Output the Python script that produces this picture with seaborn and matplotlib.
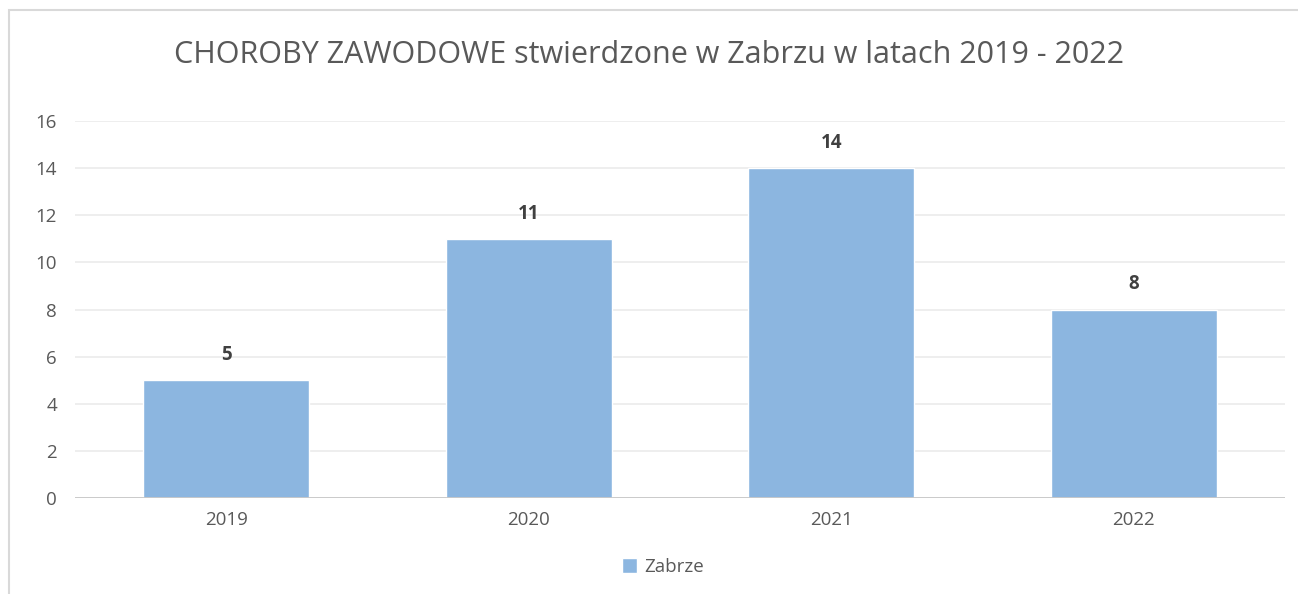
import matplotlib
matplotlib.use("Agg")
import matplotlib.pyplot as plt
import seaborn as sb
import pandas as pd
from matplotlib.patches import Rectangle, Patch

years = ["2019", "2020", "2021", "2022"]
cases = [5, 11, 14, 8]
series_name = "Zabrze"
title = "CHOROBY ZAWODOWE stwierdzone w Zabrzu w latach 2019 - 2022"

df = pd.DataFrame({"rok": years, "liczba": cases})

sb.set_style("white")
plt.rcParams["font.family"] = ["Open Sans", "DejaVu Sans"]

fig = plt.figure(figsize=(12.98, 5.94), dpi=100)
ax = fig.add_axes([0.0578, 0.1616, 0.9322, 0.6347])

bar_color = "#8CB6E0"
sb.barplot(data=df, x="rok", y="liczba", color=bar_color, width=0.55,
           saturation=1, ax=ax, zorder=3)

ax.set_ylim(0, 16)
ax.set_yticks(range(0, 17, 2))
ax.set_xlim(-0.5, 3.5)
ax.yaxis.grid(True, color="#EBEBEB", linewidth=1.2, zorder=0)
ax.axhline(0, color="#C8C8C8", linewidth=1.3, zorder=4)
for s in ax.spines.values():
    s.set_visible(False)
ax.tick_params(axis="both", length=0, labelsize=13.5, labelcolor="#595959")
ax.tick_params(axis="y", pad=13)
ax.tick_params(axis="x", pad=9)
ax.set_xlabel("")
ax.set_ylabel("")

for i, v in enumerate(cases):
    ax.annotate(str(v), (i, v), xytext=(0, 11), textcoords="offset points",
                ha="center", va="bottom", fontsize=13.5, fontweight="bold",
                color="#404040")

fig.text(0.5, 0.908, title, ha="center", va="center", fontsize=22,
         color="#595959")

ax.legend(handles=[Patch(facecolor=bar_color, label=series_name)],
          loc="center", frameon=False, fontsize=13.5, labelcolor="#595959",
          handlelength=0.8, handleheight=0.8, handletextpad=0.4)
leg = ax.get_legend()
leg.set_bbox_to_anchor((663 / 1298, 1 - 567 / 594), transform=fig.transFigure)

fig.patches.append(Rectangle((9 / 1298, -0.1), 1.2, 1 - 10 / 594 + 0.1,
                             transform=fig.transFigure, fill=False,
                             edgecolor="#D9D9D9", linewidth=1.5))

fig.savefig("out.png", dpi=100)
